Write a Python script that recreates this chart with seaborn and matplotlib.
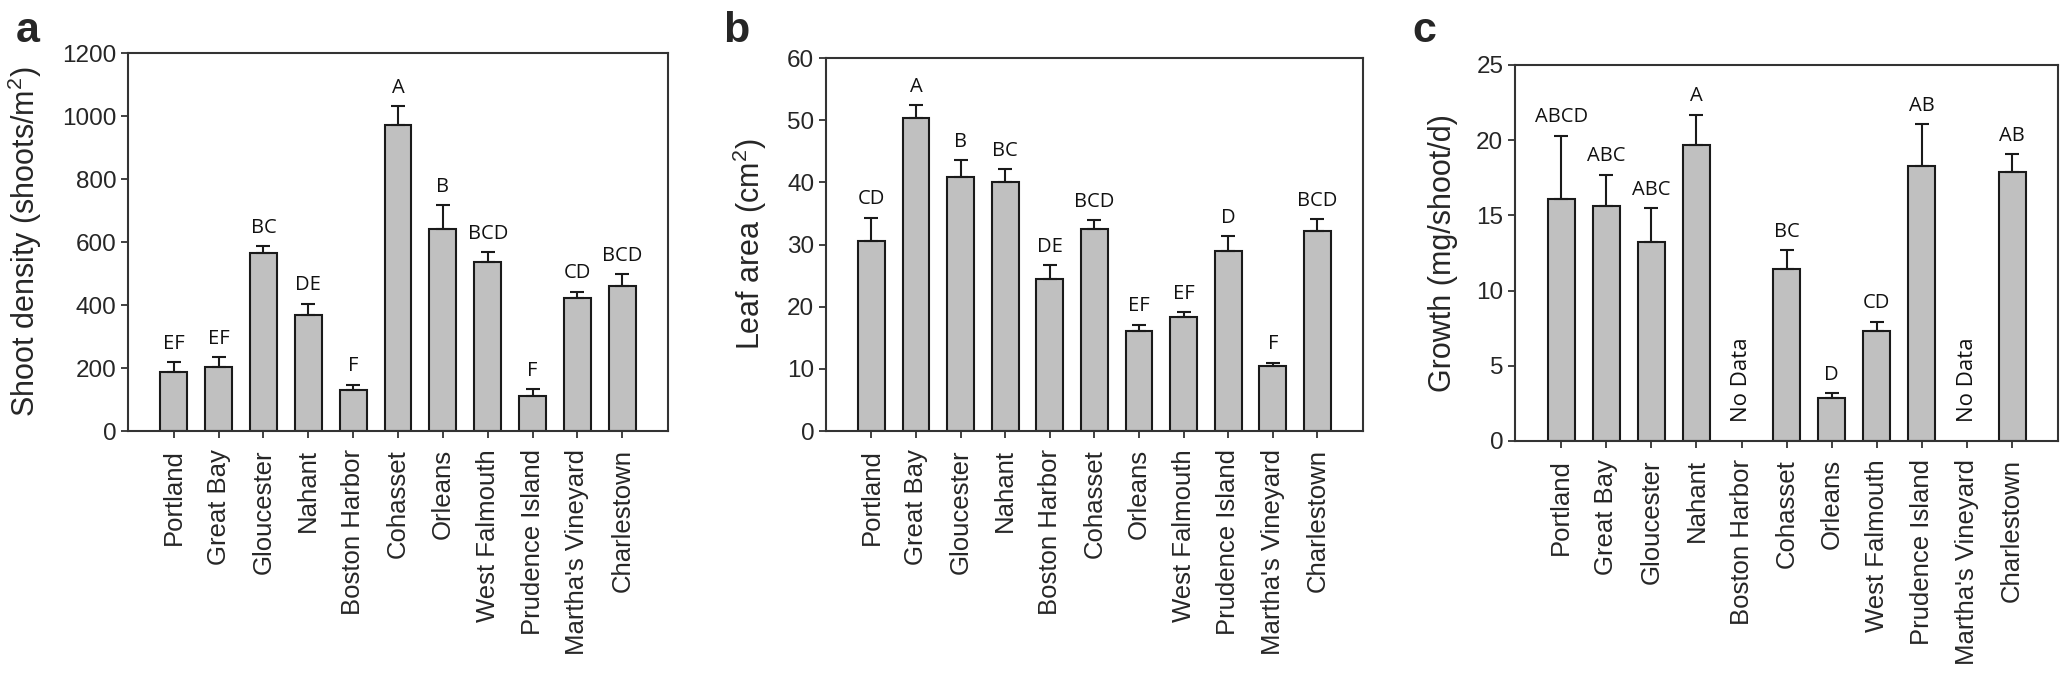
import numpy as np
import pandas as pd
import seaborn as sns
import matplotlib
matplotlib.use("Agg")
import matplotlib.pyplot as plt

sites = ["Portland", "Great Bay", "Gloucester", "Nahant", "Boston Harbor", "Cohasset",
         "Orleans", "West Falmouth", "Prudence Island", "Martha's Vineyard", "Charlestown"]

density = [186, 202, 566, 368, 131, 970, 641, 536, 111, 423, 459]
density_err = [32, 32, 20, 36, 16, 62, 76, 31, 21, 19, 39]
density_grp = ["EF", "EF", "BC", "DE", "F", "A", "B", "BCD", "F", "CD", "BCD"]

leaf = [30.5, 50.4, 40.8, 40.05, 24.4, 32.5, 16.1, 18.3, 28.9, 10.4, 32.1]
leaf_err = [3.8, 2.0, 2.8, 2.05, 2.3, 1.4, 1.0, 0.8, 2.4, 0.6, 2.0]
leaf_grp = ["CD", "A", "B", "BC", "DE", "BCD", "EF", "EF", "D", "F", "BCD"]

growth = [16.1, 15.6, 13.2, 19.7, np.nan, 11.45, 2.85, 7.28, 18.3, np.nan, 17.9]
growth_err = [4.2, 2.1, 2.3, 2.0, np.nan, 1.25, 0.31, 0.66, 2.75, np.nan, 1.17]
growth_grp = ["ABCD", "ABC", "ABC", "A", "", "BC", "D", "CD", "AB", "", "AB"]

sns.set_style("ticks")
plt.rcParams["font.family"] = ["Liberation Sans", "DejaVu Sans"]
plt.rcParams["mathtext.fontset"] = "custom"
plt.rcParams["mathtext.rm"] = "Liberation Sans"
plt.rcParams["mathtext.it"] = "Liberation Sans"

fig = plt.figure(figsize=(20.65, 6.78), dpi=100)

panels = [
    dict(pos=[0.0620, 0.3643, 0.2615, 0.5575], vals=density, err=density_err, grp=density_grp,
         ylim=(0, 1200), yticks=np.arange(0, 1201, 200), ylabel=r"Shoot density (shoots/m$^2$)",
         letter="a", lx=0.0075),
    dict(pos=[0.4000, 0.3643, 0.2600, 0.5501], vals=leaf, err=leaf_err, grp=leaf_grp,
         ylim=(0, 60), yticks=np.arange(0, 61, 10), ylabel=r"Leaf area (cm$^2$)",
         letter="b", lx=0.350),
    dict(pos=[0.7337, 0.3496, 0.2630, 0.5546], vals=growth, err=growth_err, grp=growth_grp,
         ylim=(0, 25), yticks=np.arange(0, 26, 5), ylabel="Growth (mg/shoot/d)",
         letter="c", lx=0.684),
]

letter_font = ["Open Sans", "DejaVu Sans"]

for p in panels:
    ax = fig.add_axes(p["pos"])
    df = pd.DataFrame({"site": sites, "value": p["vals"]})
    sns.barplot(data=df, x="site", y="value", order=sites, color="#c0c0c0",
                saturation=1, width=0.6, edgecolor="#1a1a1a", linewidth=1.5,
                errorbar=None, ax=ax)
    x = np.arange(len(sites))
    vals = np.array(p["vals"], dtype=float)
    errs = np.array(p["err"], dtype=float)
    ok = ~np.isnan(vals)
    ax.errorbar(x[ok], vals[ok], yerr=[np.zeros(ok.sum()), errs[ok]], fmt="none",
                ecolor="#1a1a1a", elinewidth=1.5, capsize=5, capthick=1.5)
    for xi, v, e, g in zip(x, vals, errs, p["grp"]):
        if np.isnan(v):
            ax.text(xi, p["ylim"][1] * 0.05, "No Data", rotation=90, ha="center",
                    va="bottom", fontsize=16, family=letter_font, color="#111111")
            continue
        ax.annotate(g, (xi, v + e), xytext=(0, 6), textcoords="offset points",
                    ha="center", va="bottom", fontsize=14.5, family=letter_font,
                    color="#111111")
    ax.set_xlim(-1.02, 11.02)
    ax.set_ylim(*p["ylim"])
    ax.set_yticks(p["yticks"])
    ax.set_yticklabels([str(int(t)) for t in p["yticks"]], fontsize=17.5)
    ax.set_xticks(x)
    ax.set_xticklabels(sites, rotation=90, fontsize=18.5)
    ax.set_xlabel("")
    ax.set_ylabel(p["ylabel"], fontsize=22, labelpad=13)
    for s in ax.spines.values():
        s.set_visible(True)
        s.set_color("#333333")
        s.set_linewidth(1.5)
    ax.tick_params(axis="both", direction="out", length=5, width=1.3, color="#333333")
    ax.tick_params(axis="x", pad=8)
    fig.text(p["lx"], 0.938, p["letter"], fontsize=31, fontweight="bold",
             ha="left", va="baseline")

fig.savefig("out.png", dpi=100)
